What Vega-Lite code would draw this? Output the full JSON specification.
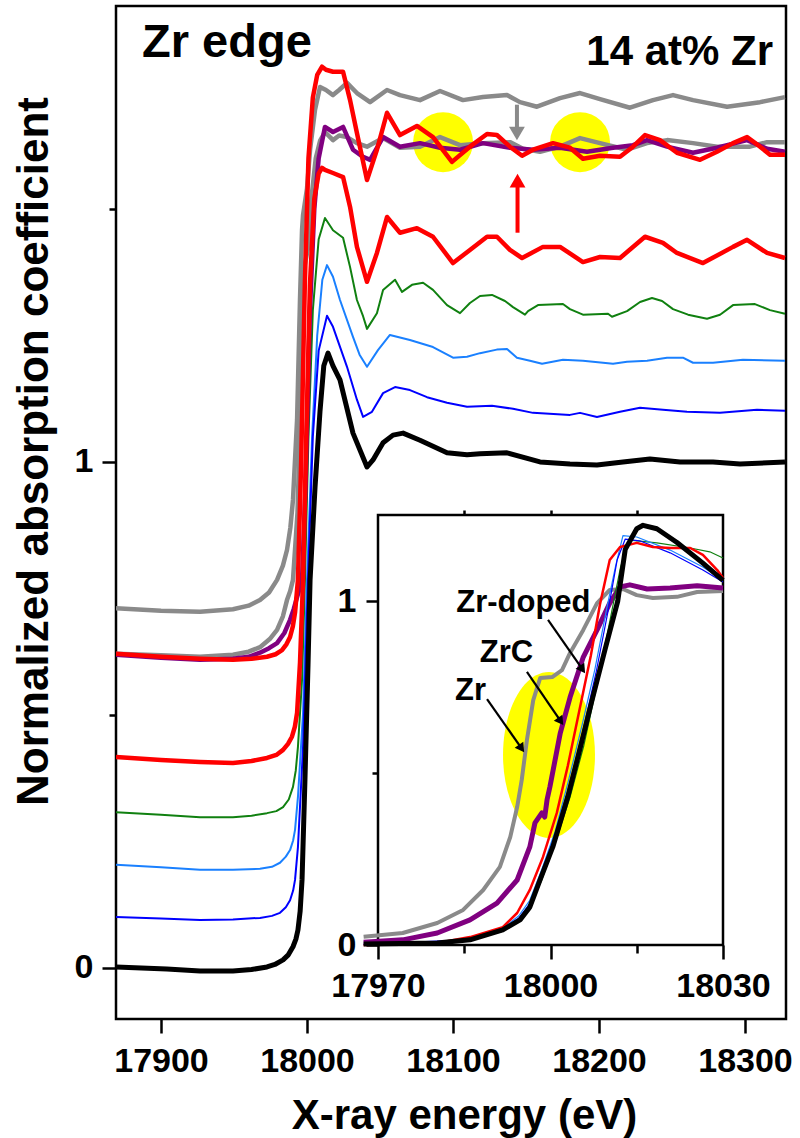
{
"$schema":"https://vega.github.io/schema/vega-lite/v6.json",
"width":670,"height":1013,
"autosize":{"type":"none"},
"padding":{"left":116,"top":6,"right":14,"bottom":119},
"background":"white",
"config":{"view":{"stroke":"black","strokeWidth":2.5},"font":"Liberation Sans",
 "axis":{"labelFont":"Liberation Sans","titleFont":"Liberation Sans","labelColor":"black","titleColor":"black","tickColor":"black","domain":false,"grid":false,"labelFontWeight":"bold","titleFontWeight":"bold","tickWidth":2.5,"labelOverlap":false,"labelFlush":false,"format":"d"},
 "text":{"font":"Liberation Sans"}},
"datasets":{
"main":[
{"s":"gray1","E":17869.2,"v":0.711},{"s":"gray1","E":17900,"v":0.706},{"s":"gray1","E":17926.7,"v":0.704},{"s":"gray1","E":17949.3,"v":0.709},{"s":"gray1","E":17960,"v":0.716},{"s":"gray1","E":17967.8,"v":0.727},{"s":"gray1","E":17974,"v":0.742},{"s":"gray1","E":17979.5,"v":0.767},{"s":"gray1","E":17983.5,"v":0.795},{"s":"gray1","E":17986.3,"v":0.826},{"s":"gray1","E":17988.6,"v":0.87},{"s":"gray1","E":17990.4,"v":0.925},{"s":"gray1","E":17993.2,"v":1.083},{"s":"gray1","E":17995.2,"v":1.32},{"s":"gray1","E":17996.6,"v":1.458},{"s":"gray1","E":17997.3,"v":1.488},{"s":"gray1","E":18000.0,"v":1.54},{"s":"gray1","E":18002.1,"v":1.617},{"s":"gray1","E":18005.5,"v":1.696},{"s":"gray1","E":18008.9,"v":1.741},{"s":"gray1","E":18013,"v":1.735},{"s":"gray1","E":18017.8,"v":1.725},{"s":"gray1","E":18022,"v":1.735},{"s":"gray1","E":18027.4,"v":1.749},{"s":"gray1","E":18034.2,"v":1.729},{"s":"gray1","E":18043.2,"v":1.711},{"s":"gray1","E":18054.8,"v":1.735},{"s":"gray1","E":18063.7,"v":1.725},{"s":"gray1","E":18077.4,"v":1.715},{"s":"gray1","E":18091.1,"v":1.733},{"s":"gray1","E":18106.8,"v":1.715},{"s":"gray1","E":18120.5,"v":1.721},{"s":"gray1","E":18137.0,"v":1.725},{"s":"gray1","E":18145.9,"v":1.711},{"s":"gray1","E":18157.5,"v":1.702},{"s":"gray1","E":18173.3,"v":1.719},{"s":"gray1","E":18187.0,"v":1.729},{"s":"gray1","E":18200.7,"v":1.717},{"s":"gray1","E":18221.2,"v":1.7},{"s":"gray1","E":18237.0,"v":1.715},{"s":"gray1","E":18250.7,"v":1.725},{"s":"gray1","E":18264.4,"v":1.715},{"s":"gray1","E":18287.7,"v":1.702},{"s":"gray1","E":18310.3,"v":1.711},{"s":"gray1","E":18327.4,"v":1.721},
{"s":"gray2","E":17869.2,"v":0.621},{"s":"gray2","E":17900,"v":0.618},{"s":"gray2","E":17926.7,"v":0.615},{"s":"gray2","E":17949.3,"v":0.619},{"s":"gray2","E":17960,"v":0.625},{"s":"gray2","E":17967.8,"v":0.634},{"s":"gray2","E":17974.5,"v":0.65},{"s":"gray2","E":17979.5,"v":0.668},{"s":"gray2","E":17983.5,"v":0.695},{"s":"gray2","E":17986.3,"v":0.727},{"s":"gray2","E":17988.5,"v":0.745},{"s":"gray2","E":17990.4,"v":0.767},{"s":"gray2","E":17993.5,"v":0.9},{"s":"gray2","E":17995.5,"v":1.1},{"s":"gray2","E":17997,"v":1.3},{"s":"gray2","E":17998.5,"v":1.39},{"s":"gray2","E":18000.5,"v":1.42},{"s":"gray2","E":18003,"v":1.52},{"s":"gray2","E":18006,"v":1.6},{"s":"gray2","E":18009,"v":1.635},{"s":"gray2","E":18012.3,"v":1.652},{"s":"gray2","E":18017.8,"v":1.636},{"s":"gray2","E":18022,"v":1.645},{"s":"gray2","E":18027.4,"v":1.642},{"s":"gray2","E":18034.2,"v":1.63},{"s":"gray2","E":18041.1,"v":1.623},{"s":"gray2","E":18052.1,"v":1.64},{"s":"gray2","E":18063.7,"v":1.621},{"s":"gray2","E":18077.4,"v":1.623},{"s":"gray2","E":18091.1,"v":1.642},{"s":"gray2","E":18104.8,"v":1.626},{"s":"gray2","E":18120.5,"v":1.63},{"s":"gray2","E":18139.0,"v":1.632},{"s":"gray2","E":18147.9,"v":1.619},{"s":"gray2","E":18159.6,"v":1.613},{"s":"gray2","E":18173.3,"v":1.623},{"s":"gray2","E":18187.0,"v":1.64},{"s":"gray2","E":18200.7,"v":1.63},{"s":"gray2","E":18219.2,"v":1.617},{"s":"gray2","E":18232.9,"v":1.63},{"s":"gray2","E":18246.6,"v":1.636},{"s":"gray2","E":18264.4,"v":1.63},{"s":"gray2","E":18280.8,"v":1.623},{"s":"gray2","E":18303.4,"v":1.623},{"s":"gray2","E":18315.1,"v":1.632},{"s":"gray2","E":18327.4,"v":1.632},
{"s":"purple","E":17869.2,"v":0.619},{"s":"purple","E":17900,"v":0.613},{"s":"purple","E":17926.7,"v":0.609},{"s":"purple","E":17949.3,"v":0.611},{"s":"purple","E":17960,"v":0.615},{"s":"purple","E":17967.8,"v":0.623},{"s":"purple","E":17974,"v":0.632},{"s":"purple","E":17979.5,"v":0.642},{"s":"purple","E":17984.5,"v":0.662},{"s":"purple","E":17988.4,"v":0.688},{"s":"purple","E":17991,"v":0.71},{"s":"purple","E":17993.2,"v":0.733},{"s":"purple","E":17995,"v":0.75},{"s":"purple","E":17996.6,"v":0.767},{"s":"purple","E":17999,"v":0.95},{"s":"purple","E":18002,"v":1.3},{"s":"purple","E":18005,"v":1.5},{"s":"purple","E":18008,"v":1.6},{"s":"purple","E":18012.3,"v":1.662},{"s":"purple","E":18017.8,"v":1.652},{"s":"purple","E":18024.7,"v":1.662},{"s":"purple","E":18031.5,"v":1.617},{"s":"purple","E":18038.4,"v":1.603},{"s":"purple","E":18043.2,"v":1.597},{"s":"purple","E":18052.1,"v":1.642},{"s":"purple","E":18063.7,"v":1.623},{"s":"purple","E":18077.4,"v":1.63},{"s":"purple","E":18091.1,"v":1.621},{"s":"purple","E":18104.8,"v":1.617},{"s":"purple","E":18120.5,"v":1.63},{"s":"purple","E":18139.0,"v":1.621},{"s":"purple","E":18154.8,"v":1.617},{"s":"purple","E":18173.3,"v":1.621},{"s":"purple","E":18191.8,"v":1.613},{"s":"purple","E":18209.6,"v":1.621},{"s":"purple","E":18223.3,"v":1.626},{"s":"purple","E":18232.9,"v":1.636},{"s":"purple","E":18246.6,"v":1.623},{"s":"purple","E":18264.4,"v":1.611},{"s":"purple","E":18280.8,"v":1.621},{"s":"purple","E":18301.4,"v":1.636},{"s":"purple","E":18315.1,"v":1.619},{"s":"purple","E":18327.4,"v":1.613},
{"s":"red1","E":17869.2,"v":0.621},{"s":"red1","E":17900,"v":0.615},{"s":"red1","E":17926.7,"v":0.611},{"s":"red1","E":17949.3,"v":0.609},{"s":"red1","E":17962,"v":0.611},{"s":"red1","E":17972.6,"v":0.615},{"s":"red1","E":17978.5,"v":0.62},{"s":"red1","E":17982.9,"v":0.628},{"s":"red1","E":17986,"v":0.64},{"s":"red1","E":17988.4,"v":0.654},{"s":"red1","E":17990.3,"v":0.675},{"s":"red1","E":17991.8,"v":0.702},{"s":"red1","E":17993.8,"v":0.767},{"s":"red1","E":17996,"v":1.0},{"s":"red1","E":17998.5,"v":1.35},{"s":"red1","E":18001,"v":1.6},{"s":"red1","E":18004,"v":1.72},{"s":"red1","E":18007,"v":1.765},{"s":"red1","E":18010.3,"v":1.781},{"s":"red1","E":18013,"v":1.775},{"s":"red1","E":18017.8,"v":1.771},{"s":"red1","E":18024.7,"v":1.771},{"s":"red1","E":18029.5,"v":1.715},{"s":"red1","E":18034.2,"v":1.65},{"s":"red1","E":18041.1,"v":1.557},{"s":"red1","E":18047.9,"v":1.617},{"s":"red1","E":18054.8,"v":1.69},{"s":"red1","E":18063.7,"v":1.646},{"s":"red1","E":18075.3,"v":1.664},{"s":"red1","E":18086.3,"v":1.642},{"s":"red1","E":18099.3,"v":1.593},{"s":"red1","E":18111.6,"v":1.623},{"s":"red1","E":18123.3,"v":1.648},{"s":"red1","E":18130.1,"v":1.646},{"s":"red1","E":18139.0,"v":1.623},{"s":"red1","E":18147.3,"v":1.605},{"s":"red1","E":18154.8,"v":1.617},{"s":"red1","E":18168.5,"v":1.63},{"s":"red1","E":18180.1,"v":1.621},{"s":"red1","E":18189.0,"v":1.599},{"s":"red1","E":18200.7,"v":1.605},{"s":"red1","E":18214.4,"v":1.603},{"s":"red1","E":18223.3,"v":1.623},{"s":"red1","E":18231.5,"v":1.646},{"s":"red1","E":18241.8,"v":1.636},{"s":"red1","E":18253.4,"v":1.611},{"s":"red1","E":18269.2,"v":1.597},{"s":"red1","E":18280.8,"v":1.613},{"s":"red1","E":18291.8,"v":1.63},{"s":"red1","E":18301.4,"v":1.642},{"s":"red1","E":18310.3,"v":1.623},{"s":"red1","E":18317.1,"v":1.607},{"s":"red1","E":18327.4,"v":1.607},
{"s":"red2","E":17869.2,"v":0.417},{"s":"red2","E":17900,"v":0.411},{"s":"red2","E":17926.7,"v":0.407},{"s":"red2","E":17949.3,"v":0.405},{"s":"red2","E":17962,"v":0.409},{"s":"red2","E":17972.6,"v":0.415},{"s":"red2","E":17979,"v":0.421},{"s":"red2","E":17983.6,"v":0.431},{"s":"red2","E":17987,"v":0.443},{"s":"red2","E":17989.7,"v":0.457},{"s":"red2","E":17991.7,"v":0.477},{"s":"red2","E":17993.2,"v":0.504},{"s":"red2","E":17995.2,"v":0.603},{"s":"red2","E":17997.3,"v":0.767},{"s":"red2","E":17999.5,"v":1.05},{"s":"red2","E":18002,"v":1.35},{"s":"red2","E":18005,"v":1.52},{"s":"red2","E":18008,"v":1.57},{"s":"red2","E":18010.3,"v":1.581},{"s":"red2","E":18012.3,"v":1.577},{"s":"red2","E":18017.8,"v":1.571},{"s":"red2","E":18024.7,"v":1.563},{"s":"red2","E":18029.5,"v":1.504},{"s":"red2","E":18034.2,"v":1.425},{"s":"red2","E":18041.1,"v":1.356},{"s":"red2","E":18047.9,"v":1.413},{"s":"red2","E":18054.8,"v":1.484},{"s":"red2","E":18063.7,"v":1.453},{"s":"red2","E":18075.3,"v":1.462},{"s":"red2","E":18086.3,"v":1.445},{"s":"red2","E":18100.0,"v":1.393},{"s":"red2","E":18111.6,"v":1.419},{"s":"red2","E":18123.3,"v":1.445},{"s":"red2","E":18130.1,"v":1.445},{"s":"red2","E":18139.0,"v":1.419},{"s":"red2","E":18147.3,"v":1.403},{"s":"red2","E":18161.6,"v":1.425},{"s":"red2","E":18173.3,"v":1.425},{"s":"red2","E":18189.0,"v":1.395},{"s":"red2","E":18200.7,"v":1.405},{"s":"red2","E":18214.4,"v":1.403},{"s":"red2","E":18231.5,"v":1.445},{"s":"red2","E":18243.8,"v":1.433},{"s":"red2","E":18253.4,"v":1.413},{"s":"red2","E":18271.2,"v":1.393},{"s":"red2","E":18291.8,"v":1.425},{"s":"red2","E":18301.4,"v":1.439},{"s":"red2","E":18315.1,"v":1.413},{"s":"red2","E":18327.4,"v":1.403},
{"s":"green","E":17869.2,"v":0.308},{"s":"green","E":17900,"v":0.303},{"s":"green","E":17926.7,"v":0.298},{"s":"green","E":17949.3,"v":0.298},{"s":"green","E":17962,"v":0.301},{"s":"green","E":17972.6,"v":0.306},{"s":"green","E":17979,"v":0.31},{"s":"green","E":17983.6,"v":0.318},{"s":"green","E":17987.5,"v":0.333},{"s":"green","E":17990.4,"v":0.358},{"s":"green","E":17992.3,"v":0.39},{"s":"green","E":17993.8,"v":0.437},{"s":"green","E":17996.6,"v":0.569},{"s":"green","E":17998.6,"v":0.767},{"s":"green","E":18001,"v":1.05},{"s":"green","E":18004,"v":1.3},{"s":"green","E":18008,"v":1.44},{"s":"green","E":18012.3,"v":1.482},{"s":"green","E":18017.8,"v":1.458},{"s":"green","E":18024.7,"v":1.443},{"s":"green","E":18029.5,"v":1.385},{"s":"green","E":18034.2,"v":1.32},{"s":"green","E":18038.4,"v":1.288},{"s":"green","E":18041.1,"v":1.263},{"s":"green","E":18047.9,"v":1.294},{"s":"green","E":18052.1,"v":1.34},{"s":"green","E":18060.3,"v":1.36},{"s":"green","E":18065.1,"v":1.336},{"s":"green","E":18071.9,"v":1.35},{"s":"green","E":18079.5,"v":1.354},{"s":"green","E":18086.3,"v":1.34},{"s":"green","E":18095.9,"v":1.31},{"s":"green","E":18104.8,"v":1.294},{"s":"green","E":18111.6,"v":1.314},{"s":"green","E":18118.5,"v":1.328},{"s":"green","E":18126.7,"v":1.33},{"s":"green","E":18135.6,"v":1.318},{"s":"green","E":18141.1,"v":1.306},{"s":"green","E":18149.3,"v":1.291},{"s":"green","E":18151.4,"v":1.298},{"s":"green","E":18158.2,"v":1.31},{"s":"green","E":18175.3,"v":1.312},{"s":"green","E":18180.1,"v":1.302},{"s":"green","E":18189.0,"v":1.291},{"s":"green","E":18206.2,"v":1.293},{"s":"green","E":18208.9,"v":1.287},{"s":"green","E":18219.2,"v":1.298},{"s":"green","E":18228.1,"v":1.316},{"s":"green","E":18236.3,"v":1.324},{"s":"green","E":18243.2,"v":1.318},{"s":"green","E":18250.7,"v":1.302},{"s":"green","E":18261.0,"v":1.291},{"s":"green","E":18274.0,"v":1.283},{"s":"green","E":18282.9,"v":1.291},{"s":"green","E":18291.8,"v":1.31},{"s":"green","E":18306.8,"v":1.312},{"s":"green","E":18317.1,"v":1.3},{"s":"green","E":18327.4,"v":1.293},
{"s":"ltblue","E":17869.2,"v":0.204},{"s":"ltblue","E":17900,"v":0.199},{"s":"ltblue","E":17926.7,"v":0.194},{"s":"ltblue","E":17949.3,"v":0.194},{"s":"ltblue","E":17967.8,"v":0.196},{"s":"ltblue","E":17976,"v":0.2},{"s":"ltblue","E":17981.5,"v":0.208},{"s":"ltblue","E":17985.5,"v":0.22},{"s":"ltblue","E":17988.4,"v":0.233},{"s":"ltblue","E":17990.5,"v":0.252},{"s":"ltblue","E":17991.8,"v":0.273},{"s":"ltblue","E":17993.8,"v":0.338},{"s":"ltblue","E":17997.3,"v":0.504},{"s":"ltblue","E":18000.0,"v":0.767},{"s":"ltblue","E":18003.5,"v":1.05},{"s":"ltblue","E":18007,"v":1.25},{"s":"ltblue","E":18010.5,"v":1.36},{"s":"ltblue","E":18013.7,"v":1.389},{"s":"ltblue","E":18017.8,"v":1.366},{"s":"ltblue","E":18022.6,"v":1.32},{"s":"ltblue","E":18031.5,"v":1.247},{"s":"ltblue","E":18036,"v":1.212},{"s":"ltblue","E":18041.1,"v":1.188},{"s":"ltblue","E":18048.6,"v":1.221},{"s":"ltblue","E":18056.8,"v":1.251},{"s":"ltblue","E":18070.5,"v":1.241},{"s":"ltblue","E":18086.3,"v":1.227},{"s":"ltblue","E":18100,"v":1.206},{"s":"ltblue","E":18109.6,"v":1.208},{"s":"ltblue","E":18118.5,"v":1.215},{"s":"ltblue","E":18130,"v":1.222},{"s":"ltblue","E":18137.0,"v":1.223},{"s":"ltblue","E":18143.8,"v":1.206},{"s":"ltblue","E":18152.7,"v":1.2},{"s":"ltblue","E":18161.0,"v":1.194},{"s":"ltblue","E":18175.3,"v":1.202},{"s":"ltblue","E":18189.0,"v":1.2},{"s":"ltblue","E":18209.6,"v":1.194},{"s":"ltblue","E":18219.2,"v":1.198},{"s":"ltblue","E":18232.9,"v":1.2},{"s":"ltblue","E":18246.6,"v":1.206},{"s":"ltblue","E":18257.5,"v":1.206},{"s":"ltblue","E":18264.4,"v":1.196},{"s":"ltblue","E":18278.1,"v":1.196},{"s":"ltblue","E":18298.6,"v":1.202},{"s":"ltblue","E":18327.4,"v":1.2},
{"s":"blue","E":17869.2,"v":0.101},{"s":"blue","E":17900,"v":0.098},{"s":"blue","E":17926.7,"v":0.095},{"s":"blue","E":17949.3,"v":0.096},{"s":"blue","E":17967.8,"v":0.099},{"s":"blue","E":17976,"v":0.103},{"s":"blue","E":17981.5,"v":0.109},{"s":"blue","E":17985.5,"v":0.12},{"s":"blue","E":17988.4,"v":0.134},{"s":"blue","E":17990.5,"v":0.153},{"s":"blue","E":17991.8,"v":0.174},{"s":"blue","E":17993.8,"v":0.239},{"s":"blue","E":17997.3,"v":0.437},{"s":"blue","E":18000.7,"v":0.767},{"s":"blue","E":18004,"v":1.05},{"s":"blue","E":18008,"v":1.22},{"s":"blue","E":18013.7,"v":1.289},{"s":"blue","E":18017.8,"v":1.267},{"s":"blue","E":18027.4,"v":1.188},{"s":"blue","E":18034.2,"v":1.123},{"s":"blue","E":18038.4,"v":1.089},{"s":"blue","E":18044.5,"v":1.099},{"s":"blue","E":18052.1,"v":1.136},{"s":"blue","E":18060.3,"v":1.148},{"s":"blue","E":18070.5,"v":1.142},{"s":"blue","E":18082.2,"v":1.128},{"s":"blue","E":18095.9,"v":1.117},{"s":"blue","E":18109.6,"v":1.109},{"s":"blue","E":18126.7,"v":1.111},{"s":"blue","E":18141.1,"v":1.105},{"s":"blue","E":18154.8,"v":1.097},{"s":"blue","E":18180.1,"v":1.093},{"s":"blue","E":18187.0,"v":1.097},{"s":"blue","E":18198.6,"v":1.089},{"s":"blue","E":18214.4,"v":1.099},{"s":"blue","E":18228.1,"v":1.107},{"s":"blue","E":18243.8,"v":1.103},{"s":"blue","E":18260.3,"v":1.099},{"s":"blue","E":18282.9,"v":1.097},{"s":"blue","E":18308.2,"v":1.103},{"s":"blue","E":18327.4,"v":1.101},
{"s":"black","E":17869.2,"v":0.002},{"s":"black","E":17904,"v":-0.002},{"s":"black","E":17926.7,"v":-0.006},{"s":"black","E":17949.3,"v":-0.006},{"s":"black","E":17962,"v":-0.003},{"s":"black","E":17972.6,"v":0.002},{"s":"black","E":17978,"v":0.007},{"s":"black","E":17983.6,"v":0.016},{"s":"black","E":17987.2,"v":0.026},{"s":"black","E":17990.4,"v":0.042},{"s":"black","E":17992.4,"v":0.057},{"s":"black","E":17993.8,"v":0.075},{"s":"black","E":17995.3,"v":0.112},{"s":"black","E":17996.6,"v":0.174},{"s":"black","E":17998.6,"v":0.372},{"s":"black","E":18000.7,"v":0.6},{"s":"black","E":18002.1,"v":0.767},{"s":"black","E":18005.5,"v":0.95},{"s":"black","E":18008.9,"v":1.1},{"s":"black","E":18011.5,"v":1.19},{"s":"black","E":18014.4,"v":1.215},{"s":"black","E":18017.8,"v":1.19},{"s":"black","E":18022.6,"v":1.162},{"s":"black","E":18031.5,"v":1.057},{"s":"black","E":18041.1,"v":0.99},{"s":"black","E":18045.2,"v":1.004},{"s":"black","E":18052.1,"v":1.038},{"s":"black","E":18058.9,"v":1.053},{"s":"black","E":18065.8,"v":1.057},{"s":"black","E":18077.4,"v":1.043},{"s":"black","E":18095.9,"v":1.018},{"s":"black","E":18109.6,"v":1.014},{"s":"black","E":18118.5,"v":1.016},{"s":"black","E":18137.0,"v":1.018},{"s":"black","E":18159.6,"v":1.0},{"s":"black","E":18180.1,"v":0.996},{"s":"black","E":18198.6,"v":0.994},{"s":"black","E":18216.4,"v":1.0},{"s":"black","E":18234.9,"v":1.006},{"s":"black","E":18255.5,"v":1.0},{"s":"black","E":18278.1,"v":1.0},{"s":"black","E":18296.6,"v":0.996},{"s":"black","E":18327.4,"v":1.0}
],
"inset":[
{"s":"gray1","E":17967.5,"v":0.024},{"s":"gray1","E":17974.3,"v":0.035},{"s":"gray1","E":17980.3,"v":0.064},{"s":"gray1","E":17984.8,"v":0.102},{"s":"gray1","E":17988.3,"v":0.16},{"s":"gray1","E":17991.2,"v":0.227},{"s":"gray1","E":17993.0,"v":0.314},{"s":"gray1","E":17994.2,"v":0.401},{"s":"gray1","E":17995.0,"v":0.48},{"s":"gray1","E":17995.9,"v":0.596},{"s":"gray1","E":17997.0,"v":0.712},{"s":"gray1","E":17998.2,"v":0.776},{"s":"gray1","E":18000.3,"v":0.779},{"s":"gray1","E":18002.0,"v":0.799},{"s":"gray1","E":18003.4,"v":0.849},{"s":"gray1","E":18005.7,"v":0.916},{"s":"gray1","E":18008.1,"v":0.994},{"s":"gray1","E":18010.3,"v":1.032},{"s":"gray1","E":18012.6,"v":1.035},{"s":"gray1","E":18015.0,"v":1.017},{"s":"gray1","E":18017.8,"v":1.009},{"s":"gray1","E":18022.0,"v":1.012},{"s":"gray1","E":18025.5,"v":1.026},{"s":"gray1","E":18030.0,"v":1.029},
{"s":"purple","E":17967.5,"v":0.008},{"s":"purple","E":17974.3,"v":0.015},{"s":"purple","E":17980.3,"v":0.035},{"s":"purple","E":17986.0,"v":0.073},{"s":"purple","E":17990.7,"v":0.122},{"s":"purple","E":17994.2,"v":0.189},{"s":"purple","E":17996.4,"v":0.285},{"s":"purple","E":17997.3,"v":0.355},{"s":"purple","E":17998.5,"v":0.384},{"s":"purple","E":17999.0,"v":0.372},{"s":"purple","E":17999.4,"v":0.422},{"s":"purple","E":17999.9,"v":0.46},{"s":"purple","E":18001.7,"v":0.616},{"s":"purple","E":18003.4,"v":0.72},{"s":"purple","E":18005.7,"v":0.837},{"s":"purple","E":18008.1,"v":0.916},{"s":"purple","E":18010.3,"v":0.994},{"s":"purple","E":18012.1,"v":1.041},{"s":"purple","E":18013.8,"v":1.047},{"s":"purple","E":18016.8,"v":1.035},{"s":"purple","E":18020.8,"v":1.038},{"s":"purple","E":18025.5,"v":1.044},{"s":"purple","E":18030,"v":1.038},
{"s":"green","E":17967.5,"v":0.0},{"s":"green","E":17986,"v":0.012},{"s":"green","E":17991.7,"v":0.04},{"s":"green","E":17995.9,"v":0.093},{"s":"green","E":17998.5,"v":0.19},{"s":"green","E":18001.1,"v":0.311},{"s":"green","E":18003.4,"v":0.43},{"s":"green","E":18005.8,"v":0.58},{"s":"green","E":18008,"v":0.75},{"s":"green","E":18010.3,"v":0.94},{"s":"green","E":18012.2,"v":1.1},{"s":"green","E":18013.8,"v":1.177},{"s":"green","E":18018.5,"v":1.169},{"s":"green","E":18024.3,"v":1.154},{"s":"green","E":18027.7,"v":1.143},{"s":"green","E":18030,"v":1.125},
{"s":"ltblue","E":17967.5,"v":0.002},{"s":"ltblue","E":17980.3,"v":0.006},{"s":"ltblue","E":17986,"v":0.018},{"s":"ltblue","E":17991.7,"v":0.048},{"s":"ltblue","E":17994.5,"v":0.085},{"s":"ltblue","E":17996.4,"v":0.13},{"s":"ltblue","E":17998.5,"v":0.22},{"s":"ltblue","E":18000.8,"v":0.33},{"s":"ltblue","E":18003.0,"v":0.47},{"s":"ltblue","E":18005.5,"v":0.64},{"s":"ltblue","E":18007.7,"v":0.8},{"s":"ltblue","E":18009.8,"v":0.98},{"s":"ltblue","E":18011.3,"v":1.1},{"s":"ltblue","E":18012.6,"v":1.19},{"s":"ltblue","E":18015,"v":1.186},{"s":"ltblue","E":18020.8,"v":1.148},{"s":"ltblue","E":18026.5,"v":1.099},{"s":"ltblue","E":18030,"v":1.061},
{"s":"blue","E":17967.5,"v":0.002},{"s":"blue","E":17986,"v":0.016},{"s":"blue","E":17991.7,"v":0.046},{"s":"blue","E":17994.6,"v":0.08},{"s":"blue","E":17996.4,"v":0.12},{"s":"blue","E":17998.4,"v":0.21},{"s":"blue","E":18000.6,"v":0.31},{"s":"blue","E":18003.2,"v":0.46},{"s":"blue","E":18005.6,"v":0.62},{"s":"blue","E":18007.9,"v":0.79},{"s":"blue","E":18010.0,"v":0.97},{"s":"blue","E":18011.6,"v":1.12},{"s":"blue","E":18013.0,"v":1.18},{"s":"blue","E":18015.5,"v":1.175},{"s":"blue","E":18020.8,"v":1.14},{"s":"blue","E":18026.5,"v":1.09},{"s":"blue","E":18030,"v":1.055},
{"s":"red1","E":17967.5,"v":0.0},{"s":"red1","E":17980.3,"v":0.006},{"s":"red1","E":17986.0,"v":0.023},{"s":"red1","E":17991.7,"v":0.052},{"s":"red1","E":17994.2,"v":0.093},{"s":"red1","E":17996.4,"v":0.16},{"s":"red1","E":17998.7,"v":0.256},{"s":"red1","E":18001.1,"v":0.384},{"s":"red1","E":18003.0,"v":0.52},{"s":"red1","E":18005.0,"v":0.68},{"s":"red1","E":18007.0,"v":0.84},{"s":"red1","E":18008.6,"v":0.99},{"s":"red1","E":18010.3,"v":1.119},{"s":"red1","E":18012.1,"v":1.157},{"s":"red1","E":18015.0,"v":1.169},{"s":"red1","E":18017.8,"v":1.157},{"s":"red1","E":18020.8,"v":1.154},{"s":"red1","E":18024.3,"v":1.154},{"s":"red1","E":18026.5,"v":1.134},{"s":"red1","E":18029.0,"v":1.09},{"s":"red1","E":18030,"v":1.067},
{"s":"black","E":17967.5,"v":0.003},{"s":"black","E":17980.3,"v":0.006},{"s":"black","E":17986.0,"v":0.015},{"s":"black","E":17991.7,"v":0.044},{"s":"black","E":17994.7,"v":0.073},{"s":"black","E":17996.4,"v":0.11},{"s":"black","E":17998.2,"v":0.19},{"s":"black","E":18000.4,"v":0.285},{"s":"black","E":18003.0,"v":0.43},{"s":"black","E":18005.2,"v":0.575},{"s":"black","E":18007.2,"v":0.71},{"s":"black","E":18009.5,"v":0.86},{"s":"black","E":18011.7,"v":1.0},{"s":"black","E":18013.0,"v":1.15},{"s":"black","E":18015.0,"v":1.21},{"s":"black","E":18016.1,"v":1.22},{"s":"black","E":18018.5,"v":1.21},{"s":"black","E":18022.0,"v":1.17},{"s":"black","E":18026.5,"v":1.11},{"s":"black","E":18030.0,"v":1.06}
]
},
"layer":[
{
 "layer":[
  {"data":{"values":[{"E":18093.2,"v":1.632},{"E":18187.0,"v":1.632}]},
   "mark":{"type":"point","shape":"circle","filled":true,"color":"#ffff00","opacity":1,"size":3600,"strokeWidth":0},
   "encoding":{"x":{"field":"E","type":"quantitative","scale":{"domain":[17869.18,18328.08],"nice":false,"zero":false},"axis":null},
    "y":{"field":"v","type":"quantitative","scale":{"domain":[-0.1008,1.901],"nice":false,"zero":false},
      "axis":{"values":[0.5,1.5],"orient":"left","tickSize":7,"labels":false,"title":null}}}},
  {"data":{"name":"main"},"transform":[{"filter":{"field":"s","oneOf":["green","ltblue","blue"]}}],
   "mark":{"type":"line","strokeWidth":2,"strokeJoin":"round","clip":true},
   "encoding":{"x":{"field":"E","type":"quantitative","axis":null},"y":{"field":"v","type":"quantitative","axis":null},
    "color":{"field":"s","type":"nominal","legend":null,"scale":{"domain":["gray1","gray2","purple","red1","red2","green","ltblue","blue","black"],"range":["#8a8a8a","#8a8a8a","#800080","#ff0000","#ff0000","#108010","#1a80ff","#0000ff","#000000"]}}}},
  {"data":{"name":"main"},"transform":[{"filter":{"field":"s","oneOf":["gray1","gray2","purple"]}}],
   "mark":{"type":"line","strokeWidth":4.5,"strokeJoin":"round","clip":true},
   "encoding":{"x":{"field":"E","type":"quantitative","axis":null},"y":{"field":"v","type":"quantitative","axis":null},
    "color":{"field":"s","type":"nominal","legend":null}}},
  {"data":{"name":"main"},"transform":[{"filter":{"field":"s","oneOf":["red2","red1"]}}],
   "mark":{"type":"line","strokeWidth":4.5,"strokeJoin":"round","clip":true},
   "encoding":{"x":{"field":"E","type":"quantitative","axis":null},"y":{"field":"v","type":"quantitative","axis":null},
    "color":{"field":"s","type":"nominal","legend":null}}},
  {"data":{"name":"main"},"transform":[{"filter":{"field":"s","equal":"black"}}],
   "mark":{"type":"line","strokeWidth":5,"strokeJoin":"round","clip":true},
   "encoding":{"x":{"field":"E","type":"quantitative",
      "axis":{"values":[17900,18000,18100,18200,18300],"orient":"bottom","tickSize":14,"labelFontSize":34,"labelPadding":11,
        "title":"X-ray energy (eV)","titleFontSize":42,"titleX":348,"titleY":109,"titleBaseline":"alphabetic","titleAlign":"center"}},
    "y":{"field":"v","type":"quantitative",
      "axis":{"values":[0,1],"orient":"left","tickSize":14,"labelFontSize":34,"labelPadding":9,
        "title":"Normalized absorption coefficient","titleFontSize":44,"titleX":-69,"titleY":445,"titleAngle":270,"titleBaseline":"alphabetic","titleAlign":"center"}},
    "color":{"field":"s","type":"nominal","legend":null}}},
  {"data":{"values":[{"E":18143.8,"v":1.706,"v2":1.66,"c":"gray"},{"E":18144.2,"v":1.453,"v2":1.545,"c":"red"}]},
   "mark":{"type":"rule","strokeWidth":4},
   "encoding":{"x":{"field":"E","type":"quantitative","axis":null},"y":{"field":"v","type":"quantitative","axis":null},"y2":{"field":"v2"},
    "stroke":{"field":"c","type":"nominal","legend":null,"scale":{"domain":["gray","red"],"range":["#8a8a8a","#ff0000"]}}}},
  {"data":{"values":[{"E":18143.8,"v":1.649,"c":"gray","sh":"triangle-down"},{"E":18144.2,"v":1.556,"c":"red","sh":"triangle-up"}]},
   "mark":{"type":"point","filled":true,"opacity":1,"size":250,"strokeWidth":0},
   "encoding":{"x":{"field":"E","type":"quantitative","axis":null},"y":{"field":"v","type":"quantitative","axis":null},
    "fill":{"field":"c","type":"nominal","legend":null,"scale":{"domain":["gray","red"],"range":["#8a8a8a","#ff0000"]}},
    "shape":{"field":"sh","type":"nominal","legend":null,"scale":{"domain":["triangle-down","triangle-up"],"range":["triangle-down","triangle-up"]}}}},
  {"data":{"values":[{"E":17887.0,"v":1.8,"t":"Zr edge"}]},
   "mark":{"type":"text","font":"Liberation Sans","fontWeight":"bold","fontSize":47,"align":"left","baseline":"alphabetic","color":"black"},
   "encoding":{"x":{"field":"E","type":"quantitative","axis":null},"y":{"field":"v","type":"quantitative","axis":null},"text":{"field":"t"}}},
  {"data":{"values":[{"E":18319.2,"v":1.785,"t":"14 at% Zr"}]},
   "mark":{"type":"text","font":"Liberation Sans","fontWeight":"bold","fontSize":42,"align":"right","baseline":"alphabetic","color":"black"},
   "encoding":{"x":{"field":"E","type":"quantitative","axis":null},"y":{"field":"v","type":"quantitative","axis":null},"text":{"field":"t"}}}
 ],
 "resolve":{"axis":{"x":"independent","y":"independent"}}
},
{
 "layer":[
  {"data":{"values":[{"E0":17970,"E1":18030,"v0":0,"v1":1.25}]},
   "mark":{"type":"rect","fill":"white","stroke":"black","strokeWidth":2.5},
   "encoding":{"x":{"field":"E0","type":"quantitative","scale":{"domain":[17970,18030],"range":[262,607],"nice":false,"zero":false},"axis":null},
    "x2":{"field":"E1"},
    "y":{"field":"v0","type":"quantitative","scale":{"domain":[0,1.25],"range":[939,509],"nice":false,"zero":false},"axis":null},
    "y2":{"field":"v1"}}},
  {"data":{"values":[{"E":17999.74,"v":0.5523}]},
   "mark":{"type":"point","filled":true,"color":"#ffff00","opacity":1,"strokeWidth":0,"size":27556,
     "shape":"M -0.554 0 A 0.554 1 0 1 0 0.554 0 A 0.554 1 0 1 0 -0.554 0 Z"},
   "encoding":{"x":{"field":"E","type":"quantitative","axis":null},"y":{"field":"v","type":"quantitative","axis":null}}},
  {"data":{"name":"inset"},"transform":[{"filter":{"field":"s","equal":"gray1"}}],
   "mark":{"type":"line","strokeWidth":4,"strokeJoin":"round"},
   "encoding":{"x":{"field":"E","type":"quantitative","axis":{"values":[17985,18015],"orient":"bottom","offset":-74,"tickSize":8,"labels":false,"title":null}},
    "y":{"field":"v","type":"quantitative","axis":{"values":[0.5],"orient":"left","offset":-262,"tickSize":6,"labels":false,"title":null}},
    "color":{"field":"s","type":"nominal","legend":null}}},
  {"data":{"name":"inset"},"transform":[{"filter":{"field":"s","equal":"purple"}}],
   "mark":{"type":"line","strokeWidth":5,"strokeJoin":"round"},
   "encoding":{"x":{"field":"E","type":"quantitative","axis":{"values":[17985,18000,18015],"orient":"top","offset":-508,"tickSize":4,"labels":false,"title":null}},
    "y":{"field":"v","type":"quantitative","axis":null},
    "color":{"field":"s","type":"nominal","legend":null}}},
  {"data":{"name":"inset"},"transform":[{"filter":{"field":"s","oneOf":["green","ltblue","blue"]}}],
   "mark":{"type":"line","strokeWidth":1.2,"strokeJoin":"round"},
   "encoding":{"x":{"field":"E","type":"quantitative","axis":null},"y":{"field":"v","type":"quantitative","axis":null},
    "color":{"field":"s","type":"nominal","legend":null}}},
  {"data":{"name":"inset"},"transform":[{"filter":{"field":"s","equal":"red1"}}],
   "mark":{"type":"line","strokeWidth":2.5,"strokeJoin":"round"},
   "encoding":{"x":{"field":"E","type":"quantitative","axis":null},"y":{"field":"v","type":"quantitative","axis":null},
    "color":{"field":"s","type":"nominal","legend":null}}},
  {"data":{"name":"inset"},"transform":[{"filter":{"field":"s","equal":"black"}}],
   "mark":{"type":"line","strokeWidth":5,"strokeJoin":"round"},
   "encoding":{"x":{"field":"E","type":"quantitative","axis":{"values":[17970,18000,18030],"orient":"bottom","offset":-74,"tickSize":14,"labelFontSize":34,"labelPadding":10,"title":null}},
    "y":{"field":"v","type":"quantitative","axis":{"values":[0,1],"orient":"left","offset":-262,"tickSize":12,"labelFontSize":34,"labelPadding":10,"title":null}},
    "color":{"field":"s","type":"nominal","legend":null}}},
  {"data":{"values":[{"E":17999.57,"v":0.945,"E2":18005.3,"v2":0.808},{"E":17995.9,"v":0.794,"E2":18001.5,"v2":0.657},{"E":17988.96,"v":0.715,"E2":17994.7,"v2":0.578}]},
   "mark":{"type":"rule","strokeWidth":2.2,"color":"black"},
   "encoding":{"x":{"field":"E","type":"quantitative","axis":null},"y":{"field":"v","type":"quantitative","axis":null},"x2":{"field":"E2"},"y2":{"field":"v2"}}},
  {"data":{"values":[{"E":18005.57,"v":0.801},{"E":18001.77,"v":0.65},{"E":17994.97,"v":0.571}]},
   "mark":{"type":"point","shape":"triangle-down","filled":true,"color":"black","opacity":1,"size":110,"angle":325,"strokeWidth":0},
   "encoding":{"x":{"field":"E","type":"quantitative","axis":null},"y":{"field":"v","type":"quantitative","axis":null}}},
  {"data":{"values":[{"E":17983.6,"v":0.968,"t":"Zr-doped"},{"E":17987.7,"v":0.823,"t":"ZrC"},{"E":17983.4,"v":0.712,"t":"Zr"}]},
   "mark":{"type":"text","font":"Liberation Sans","fontWeight":"bold","fontSize":31,"align":"left","baseline":"alphabetic","color":"black"},
   "encoding":{"x":{"field":"E","type":"quantitative","axis":null},"y":{"field":"v","type":"quantitative","axis":null},"text":{"field":"t"}}}
 ],
 "resolve":{"axis":{"x":"independent","y":"independent"}}
}
],
"resolve":{"scale":{"x":"independent","y":"independent"}}
}
